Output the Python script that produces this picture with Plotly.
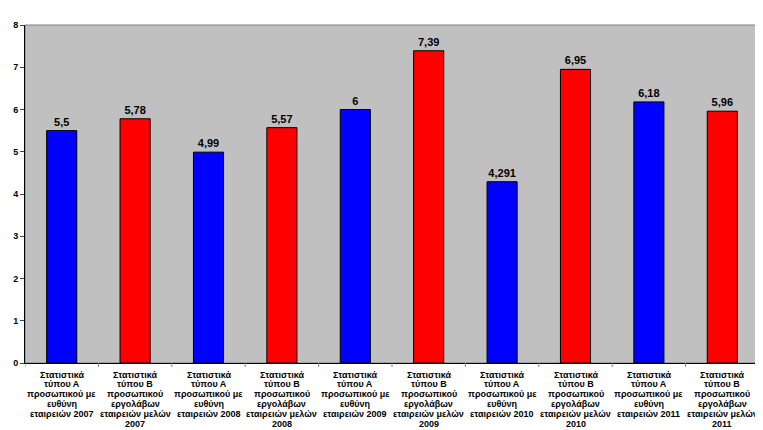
import plotly.graph_objects as go

categories = [
    "Στατιστικά<br>τύπου Α<br>προσωπικού με<br>ευθύνη<br>εταιρειών 2007",
    "Στατιστικά<br>τύπου Β<br>προσωπικού<br>εργολάβων<br>εταιρειών μελών<br>2007",
    "Στατιστικά<br>τύπου Α<br>προσωπικού με<br>ευθύνη<br>εταιρειών 2008",
    "Στατιστικά<br>τύπου Β<br>προσωπικού<br>εργολάβων<br>εταιρειών μελών<br>2008",
    "Στατιστικά<br>τύπου Α<br>προσωπικού με<br>ευθύνη<br>εταιρειών 2009",
    "Στατιστικά<br>τύπου Β<br>προσωπικού<br>εργολάβων<br>εταιρειών μελών<br>2009",
    "Στατιστικά<br>τύπου Α<br>προσωπικού με<br>ευθύνη<br>εταιρειών 2010",
    "Στατιστικά<br>τύπου Β<br>προσωπικού<br>εργολάβων<br>εταιρειών μελών<br>2010",
    "Στατιστικά<br>τύπου Α<br>προσωπικού με<br>ευθύνη<br>εταιρειών 2011",
    "Στατιστικά<br>τύπου Β<br>προσωπικού<br>εργολάβων<br>εταιρειών μελών<br>2011",
]
values = [5.5, 5.78, 4.99, 5.57, 6, 7.39, 4.291, 6.95, 6.18, 5.96]
bar_colors = ["#0000FF", "#FF0000"] * 5
labels = ["<b>" + str(v).replace(".", ",") + "</b>" for v in values]

FONT = "Liberation Sans, Arial, sans-serif"

fig = go.Figure(
    go.Bar(
        x=list(range(len(categories))),
        y=values,
        marker=dict(color=bar_colors, line=dict(color="#000000", width=1)),
        text=labels,
        textposition="outside",
        textfont=dict(family=FONT, size=11, color="#000000"),
        cliponaxis=False,
        width=0.41,
    )
)

# page body has an 8px default margin, so the figure is sized to fit
fig.update_layout(
    width=755,
    height=422,
    margin=dict(l=17, r=4, t=17, b=67, autoexpand=False),
    paper_bgcolor="#FFFFFF",
    plot_bgcolor="#C0C0C0",
    showlegend=False,
    font=dict(family=FONT, color="#000000"),
)

fig.update_xaxes(
    tickmode="array",
    tickvals=list(range(len(categories))),
    showticklabels=False,
    range=[-0.5, 9.5],
    showgrid=False,
    showline=True,
    linecolor="#000000",
    linewidth=1,
    ticks="",
    automargin=False,
)
fig.update_yaxes(
    range=[0, 8],
    tickvals=list(range(9)),
    ticktext=[f"<b>{i}</b>" for i in range(9)],
    tickfont=dict(family=FONT, size=9, color="#000000"),
    showgrid=False,
    showline=True,
    linecolor="#000000",
    linewidth=1,
    ticks="outside",
    ticklen=4,
    zeroline=False,
    automargin=False,
)

# category labels: one annotation per line, tight line spacing as in the reference
for idx, cat in enumerate(categories):
    for j, line in enumerate(cat.split("<br>")):
        fig.add_annotation(
            x=idx, xref="x", y=0, yref="paper",
            text=f"<b>{line}</b>", showarrow=False,
            yanchor="middle", xanchor="center",
            yshift=-(11.5 + j * 9.9),
            borderpad=0,
            font=dict(family=FONT, size=9, color="#000000"),
        )

# grey border on top/right of plot area
fig.add_shape(type="rect", xref="paper", yref="paper", x0=0, y0=0, x1=1, y1=1,
              line=dict(color="#808080", width=1), layer="below")
# category separator tick marks below the axis
for i in range(len(categories) + 1):
    fig.add_shape(type="line", xref="x", yref="paper", x0=i - 0.5, x1=i - 0.5,
                  y0=0, y1=-0.012, line=dict(color="#808080", width=1))

fig.write_html("out.html")
